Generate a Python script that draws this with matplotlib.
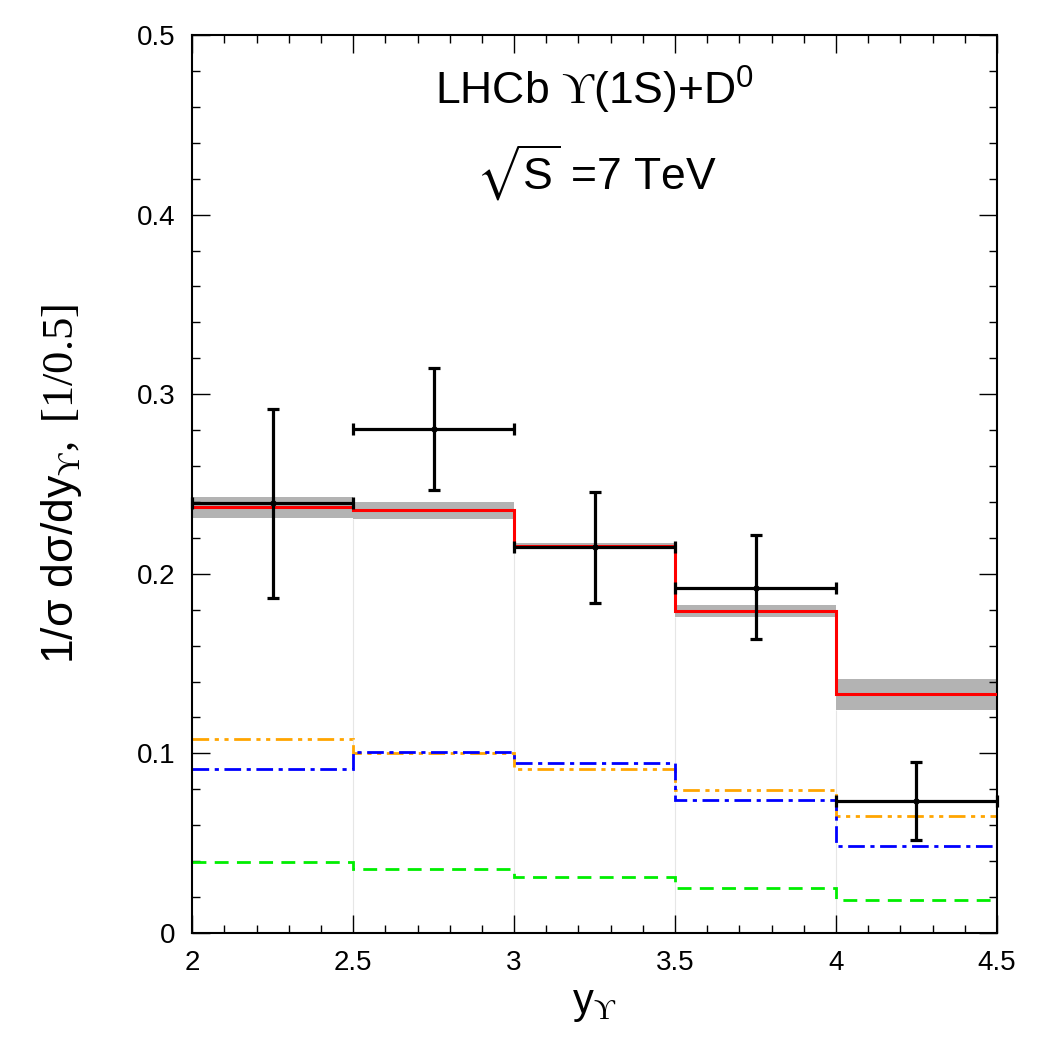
import numpy as np
import matplotlib
matplotlib.use("Agg")
import matplotlib.pyplot as plt
from matplotlib.ticker import MultipleLocator

plt.rcParams['font.family'] = ['Liberation Sans', 'DejaVu Sans']
plt.rcParams['mathtext.fontset'] = 'custom'
plt.rcParams['mathtext.rm'] = 'Liberation Serif'
plt.rcParams['mathtext.sf'] = 'Liberation Sans'
plt.rcParams['mathtext.it'] = 'Liberation Sans:italic'
plt.rcParams['mathtext.fallback'] = 'stix'

# бины по быстроте
edges = np.array([2.0, 2.5, 3.0, 3.5, 4.0, 4.5])
centers = (edges[:-1] + edges[1:]) / 2

# данные LHCb
data_y = np.array([0.2394, 0.2806, 0.2149, 0.1923, 0.0735])
data_up = np.array([0.2918, 0.3146, 0.2455, 0.2216, 0.0950])
data_dn = np.array([0.1865, 0.2467, 0.1837, 0.1637, 0.0518])

# теория: сумма и полоса неопределённости
total = np.array([0.2374, 0.2353, 0.2155, 0.1793, 0.1329])
band_lo = np.array([0.2312, 0.2307, 0.2140, 0.1759, 0.1242])
band_hi = np.array([0.2429, 0.2400, 0.2170, 0.1824, 0.1414])

# вклады
orange = np.array([0.1080, 0.1000, 0.0911, 0.0794, 0.0651])
blue = np.array([0.0911, 0.1006, 0.0944, 0.0741, 0.0484])
green = np.array([0.0394, 0.0356, 0.0310, 0.0249, 0.0184])

fig = plt.figure(figsize=(10.5, 10.5), dpi=100)
ax = fig.add_axes([0.183, 0.1114, 0.7665, 0.8553])

# полоса
ax.bar(centers, band_hi - band_lo, bottom=band_lo, width=0.5, color='#b3b3b3',
       edgecolor='none', zorder=1)
inner_lo = np.minimum(band_lo[:-1], band_lo[1:])
ax.vlines(edges[1:-1], 0, inner_lo, color='#e6e6e6', lw=0.8, zorder=0.5)

ax.stairs(green, edges, baseline=None, color='#00ee00', lw=2, ls=(0, (5, 3)), zorder=2)
ax.stairs(orange, edges, baseline=None, color='#ffa500', lw=2,
          ls=(0, (6, 2, 1.5, 2, 1.5, 2)), zorder=2)
ax.stairs(blue, edges, baseline=None, color='#0000ff', lw=2, ls=(0, (6, 2, 1.5, 2)), zorder=2)
ax.stairs(total, edges, baseline=None, color='#ff0000', lw=2.2, zorder=3)

ax.errorbar(centers, data_y, yerr=[data_y - data_dn, data_up - data_y], xerr=0.25,
            fmt='o', ms=3.5, color='black', ecolor='black', elinewidth=2.3,
            capsize=4, capthick=2.3, zorder=4, clip_on=False)

ax.set_xlim(2, 4.5)
ax.set_ylim(0, 0.5)
ax.xaxis.set_minor_locator(MultipleLocator(0.1))
ax.yaxis.set_minor_locator(MultipleLocator(0.02))
ax.set_xticks([2, 2.5, 3, 3.5, 4, 4.5])
ax.set_xticklabels(['2', '2.5', '3', '3.5', '4', '4.5'])
ax.set_yticks([0, 0.1, 0.2, 0.3, 0.4, 0.5])
ax.set_yticklabels(['0', '0.1', '0.2', '0.3', '0.4', '0.5'])
ax.tick_params(which='both', direction='in', top=True, right=True, labelsize=20, width=1)
ax.tick_params(which='major', length=13, pad=12)
ax.tick_params(which='minor', length=6)
for s in ax.spines.values():
    s.set_linewidth(1.5)

ax.set_xlabel('y$_{\\mathrm{ϒ}}$', fontsize=30, labelpad=6)
ax.set_ylabel('1/σ dσ/dy$_{\\mathrm{ϒ}}$$\\mathrm{,\\;[1/0.5]}$', fontsize=32, labelpad=38)

ax.text(0.4994, 0.939, 'LHCb $\\mathrm{ϒ}$(1S)+D$^{\\mathsf{0}}$', transform=ax.transAxes,
        ha='center', va='center', fontsize=32)
ax.text(0.503, 0.847, '$\\sqrt{\\mathsf{S}}$ =7 TeV', transform=ax.transAxes,
        ha='center', va='center', fontsize=32)

fig.savefig('out.png', dpi=100)
